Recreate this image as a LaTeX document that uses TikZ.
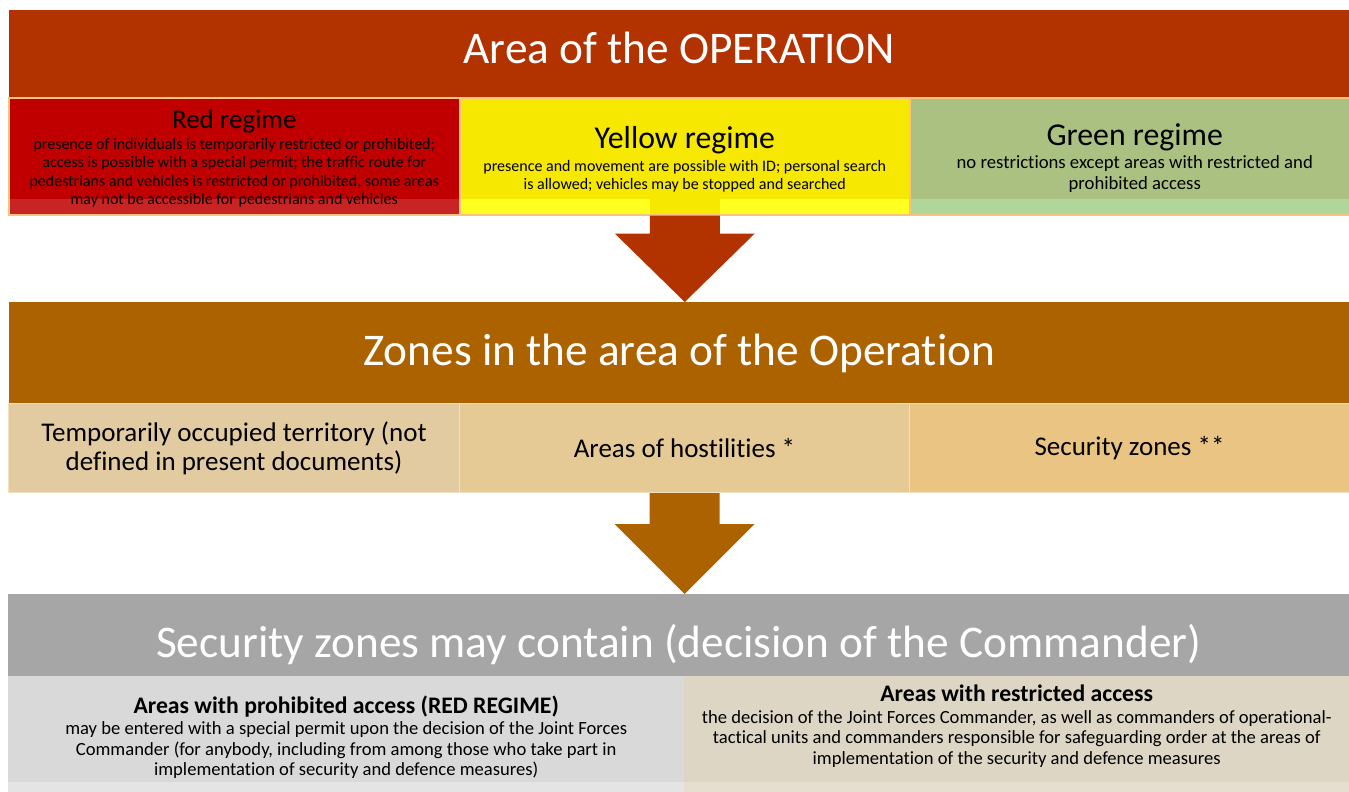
\documentclass[tikz,border=0pt]{standalone}
\usepackage{fontspec}
\setmainfont{Carlito}[Ligatures={NoCommon}]
\usetikzlibrary{calc}
\definecolor{ctop}{RGB}{179,51,0}
\definecolor{cred}{RGB}{192,0,0}
\definecolor{credS}{RGB}{200,36,36}
\definecolor{cyel}{RGB}{246,232,0}
\definecolor{cyelS}{RGB}{255,255,34}
\definecolor{cgrn}{RGB}{171,193,130}
\definecolor{cgrnS}{RGB}{177,214,155}
\definecolor{cbord}{RGB}{248,195,126}
\definecolor{cmid}{RGB}{173,98,0}
\definecolor{zoneA}{RGB}{227,203,161}
\definecolor{zoneB}{RGB}{230,202,149}
\definecolor{zoneC}{RGB}{234,196,130}
\definecolor{zbord}{RGB}{242,224,190}
\definecolor{cgray}{RGB}{166,166,166}
\definecolor{botA}{RGB}{217,217,217}
\definecolor{botAS}{RGB}{228,228,228}
\definecolor{botB}{RGB}{222,214,197}
\definecolor{botBS}{RGB}{230,223,208}
\tikzset{
  banner/.style={anchor=north west, inner sep=0pt, draw=none},
  btxt/.style={inner sep=0pt, text=white, font=\fontsize{45.3}{50}\selectfont},
  regime/.style={anchor=north west, inner sep=0pt, draw=cbord, line width=1.5pt},
  zone/.style={anchor=north west, inner sep=0pt, draw=zbord, line width=1pt, align=center, text=black,
    minimum height=89pt, font=\fontsize{27}{29}\selectfont},
  bot/.style={anchor=north west, inner sep=0pt, draw=none, minimum height=116pt},
  txt/.style={align=center, inner sep=0pt, text=black},
  strip/.style 2 args={path picture={\fill[#1] ([yshift=#2]path picture bounding box.south west) rectangle (path picture bounding box.south east);}}
}
\begin{document}
\begin{tikzpicture}[x=1pt,y=-1pt]
\useasboundingbox (0,0) rectangle (1349,792);
% top banner
\node[banner, fill=ctop, minimum width=1340pt, minimum height=87pt] (t1) at (9,10) {};
\node[btxt] (t1T) at ($(t1.center)+(0,-6)$) {Area of the OPERATION};
% regime boxes
\node[regime, fill=cred, minimum width=451pt, minimum height=117pt, strip={credS}{16pt}] (red) at (8,97) {};
\node[regime, fill=cyel, minimum width=450pt, minimum height=117pt,
  path picture={\fill[cyelS] ([yshift=16pt]path picture bounding box.south west) rectangle ([xshift=-35pt]path picture bounding box.south);
  \fill[cyelS] ([xshift=35pt,yshift=16pt]path picture bounding box.south) rectangle (path picture bounding box.south east);}] (yel) at (459,97) {};
\node[regime, fill=cgrn, minimum width=441pt, minimum height=117pt, strip={cgrnS}{16pt}] (grn) at (909,97) {};
\node[txt, font=\fontsize{16}{18.2}\selectfont] (redT) at ($(red.center)+(0,2)$) {{\fontsize{27}{30}\selectfont Red regime}\\[3pt]
  presence of individuals is temporarily restricted or prohibited;\\
  access is possible with a special permit; the traffic route for\\
  pedestrians and vehicles is restricted or prohibited, some areas\\
  may not be accessible for pedestrians and vehicles};
\node[txt, font=\fontsize{16}{18.3}\selectfont] (yelT) at ($(yel.center)+(0,3)$) {{\fontsize{31.8}{34}\selectfont Yellow regime}\\[4pt]
  presence and movement are possible with ID; personal search\\
  is allowed; vehicles may be stopped and searched};
\node[txt, font=\fontsize{18.7}{21}\selectfont] (grnT) at ($(grn.center)+(4.5,2)$) {{\fontsize{31.8}{34}\selectfont Green regime}\\[2pt]
  no restrictions except areas with restricted and\\
  prohibited access};
% middle banner
\node[banner, fill=cmid, minimum width=1340pt, minimum height=101pt] (t2) at (9,302) {};
\node[btxt] (t2T) at ($(t2.center)+(0,1)$) {Zones in the area of the Operation};
% arrow 1
\fill[ctop] ($(yel.south)+(-35,0)$) -- ($(yel.south)+(35,0)$) -- ($(yel.south)+(35,18)$) -- ($(yel.south)+(70,18)$)
  -- (t2.north -| yel.south) -- ($(yel.south)+(-70,18)$) -- ($(yel.south)+(-35,18)$) -- cycle;
% zone boxes
\node[zone, fill=zoneA, minimum width=451pt] (z1) at (8,403) {Temporarily occupied territory (not\\defined in present documents)};
\node[zone, fill=zoneB, minimum width=450pt] (z2) at (459,403) {Areas of hostilities *};
\node[zone, fill=zoneC, minimum width=440pt] (z3) at (909,403) {Security zones **};
% bottom banner
\node[banner, fill=cgray, minimum width=1341pt, minimum height=82pt] (t3) at (8,594) {};
\node[btxt] (t3T) at ($(t3.center)+(0,9)$) {Security zones may contain (decision of the Commander)};
% arrow 2
\fill[cmid] ($(z2.south)+(-35,0)$) -- ($(z2.south)+(35,0)$) -- ($(z2.south)+(35,31)$) -- ($(z2.south)+(70,31)$)
  -- (t3.north -| z2.south) -- ($(z2.south)+(-70,31)$) -- ($(z2.south)+(-35,31)$) -- cycle;
% bottom boxes
\node[bot, fill=botA, minimum width=676pt, strip={botAS}{10pt}] (b1) at (8,676) {};
\node[bot, fill=botB, minimum width=665pt, strip={botBS}{10pt}] (b2) at (684,676) {};
\node[txt, font=\fontsize{18.6}{20.5}\selectfont] (b1T) at ($(b1.center)+(0,3)$) {{\fontsize{23.7}{26}\bfseries\selectfont Areas with prohibited access (RED REGIME)}\\[1pt]
  may be entered with a special permit upon the decision of the Joint Forces\\
  Commander (for anybody, including from among those who take part in\\
  implementation of security and defence measures)};
\node[txt, font=\fontsize{18.6}{20.5}\selectfont] (b2T) at ($(b2.center)+(0,-8)$) {{\fontsize{23.7}{26}\bfseries\selectfont Areas with restricted access}\\[1pt]
  the decision of the Joint Forces Commander, as well as commanders of operational-\\
  tactical units and commanders responsible for safeguarding order at the areas of\\
  implementation of the security and defence measures};
\end{tikzpicture}
\end{document}
